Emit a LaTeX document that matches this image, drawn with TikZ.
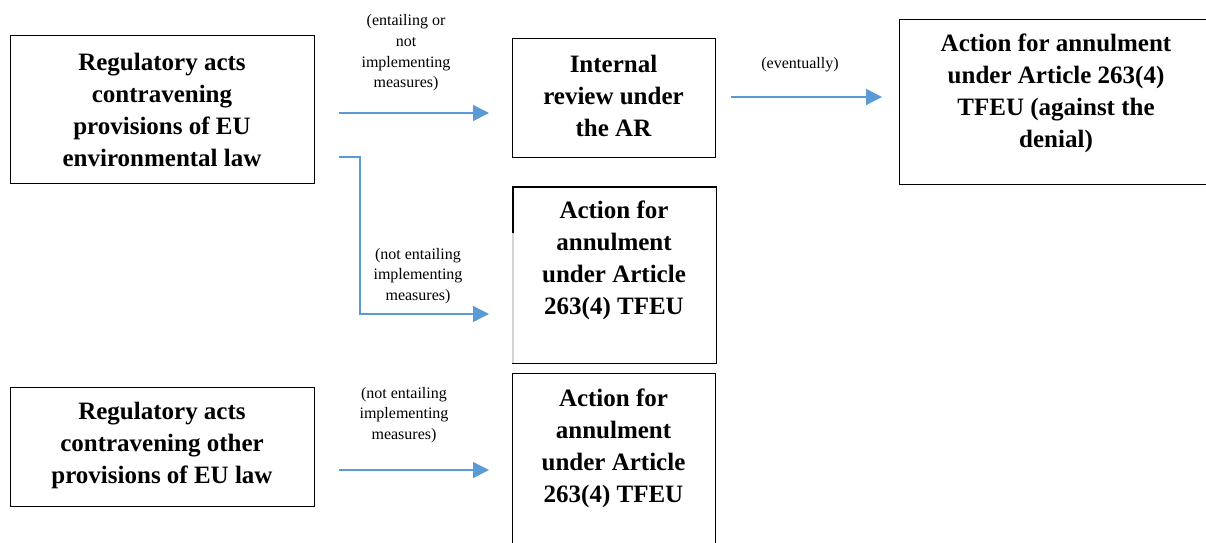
\documentclass[tikz,border=0pt]{standalone}
\usepackage{fontspec}
\setmainfont{Liberation Serif}
\usetikzlibrary{arrows.meta}
\definecolor{arrowblue}{HTML}{5B9BD5}
\definecolor{faintgray}{HTML}{D4D4D4}
\begin{document}
\begin{tikzpicture}[x=1pt,y=-1pt,
  box/.style={rectangle, draw=black, line width=1.4pt, inner sep=0pt, anchor=north west},
  edge/.style={draw=black, line width=1.4pt, line cap=rect},
  boxtext/.style={font=\fontsize{25}{32}\selectfont\bfseries, align=center, inner sep=0pt},
  note/.style={font=\fontsize{16}{20.7}\selectfont, align=center, inner sep=0pt},
  arr/.style={draw=arrowblue, line width=1.3pt, -{Triangle[length=16pt,width=16pt]}}]

\useasboundingbox (0,0) rectangle (1206,542);
\clip (0,0) rectangle (1206,542);

% boxes
\node[box, minimum width=304pt, minimum height=148pt] (A) at (10,35) {};
\node[box, minimum width=203pt, minimum height=119pt] (B) at (512,38) {};
\node[box, minimum width=314pt, minimum height=165pt] (C) at (899,19) {};
\node[box, draw=none, minimum width=202pt, minimum height=175pt] (D) at (513,187) {};
\node[box, minimum width=304pt, minimum height=119pt] (E) at (10,387) {};
\node[box, minimum width=203pt, minimum height=175pt] (F) at (512,373) {};

% frame of D: left side partly faint
\draw[edge] (D.west |- 0,233) -- (D.north west) -- (D.north east) -- (D.south east) -- (D.south west);
\draw[draw=faintgray, line width=1.2pt] (D.south west) -- (D.west |- 0,233);

% box texts
\node[boxtext] (At) at (162,110) {Regulatory acts\\contravening\\provisions of EU\\environmental law};
\node[boxtext] (Bt) at (613.5,96) {Internal\\review under\\the AR};
\node[boxtext] (Ct) at (1056,93) {Action for annulment\\under Article 263(4)\\TFEU (against the\\denial)};
\node[boxtext] (Dt) at (614,260) {Action for\\annulment\\under Article\\263(4) TFEU};
\node[boxtext] (Et) at (162,445) {Regulatory acts\\contravening other\\provisions of EU law};
\node[boxtext] (Ft) at (613.5,448) {Action for\\annulment\\under Article\\263(4) TFEU};

% connector labels
\node[note] (l1) at (406,53) {(entailing or\\not\\implementing\\measures)};
\node[note] (l2) at (800,65) {(eventually)};
\node[note] (l3) at (418,276) {(not entailing\\implementing\\measures)};
\node[note] (l4) at (404,415) {(not entailing\\implementing\\measures)};

% connectors
\draw[arr, shorten <=24pt, shorten >=23pt] (A.east |- 0,113) -- (B.west |- 0,113);
\draw[arr, shorten <=24pt, shorten >=24pt] (A.east |- 0,157) -| (360,314) -- (D.west |- 0,314);
\draw[arr, shorten <=15pt, shorten >=17pt] (B.east |- 0,97) -- (C.west |- 0,97);
\draw[arr, shorten <=24pt, shorten >=23pt] (E.east |- 0,470) -- (F.west |- 0,470);
\end{tikzpicture}
\end{document}
